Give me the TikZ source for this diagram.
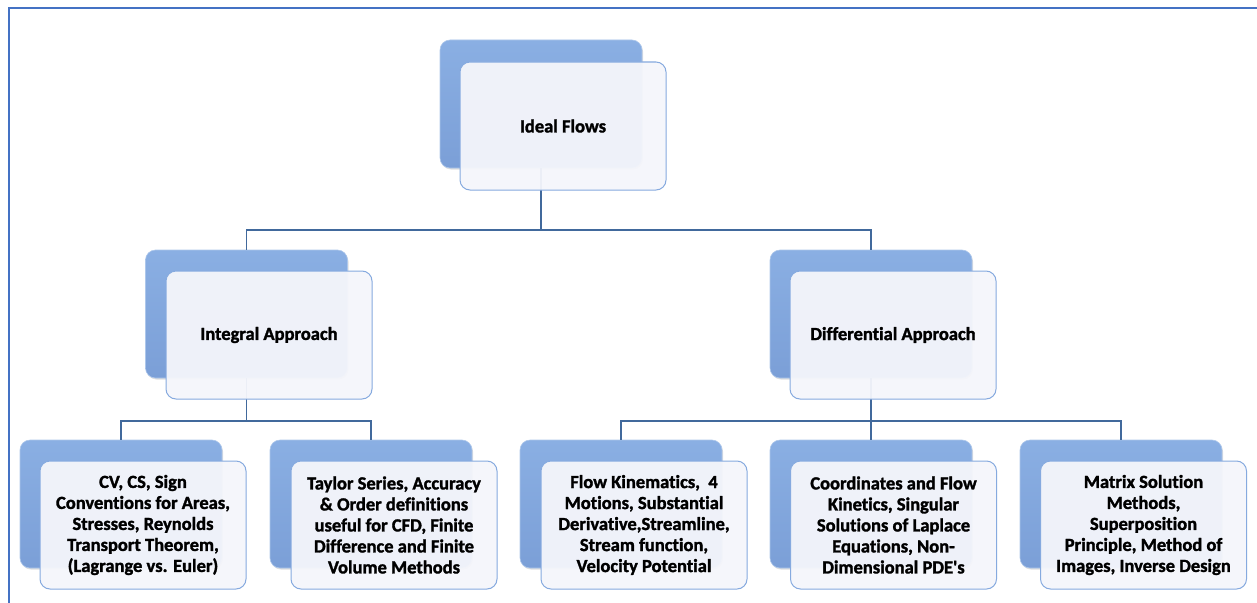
\documentclass[tikz,border=0pt]{standalone}
\usepackage{fontspec}
\setmainfont{Carlito}[Ligatures=CommonOff, BoldFeatures={FakeBold=1.6}]
\usetikzlibrary{shadows}
\definecolor{frameblue}{HTML}{4472C4}
\definecolor{linkblue}{HTML}{41699C}
\definecolor{backtop}{HTML}{8AAFE3}
\definecolor{backbot}{HTML}{7B9FD7}
\definecolor{frontfill}{HTML}{F5F6FB}
\definecolor{frontdraw}{HTML}{86AADF}
\tikzset{
  backbox/.style={rectangle, rounded corners=10pt, minimum width=202pt, minimum height=128pt,
    inner sep=0pt, top color=backtop, bottom color=backbot, draw=backtop!70!white, line width=0.6pt,
    drop shadow={shadow xshift=1pt, shadow yshift=-1.5pt, opacity=0.25}},
  frontbox/.style={rectangle, rounded corners=10pt, minimum width=206pt, minimum height=128pt,
    inner sep=0pt, fill=frontfill, fill opacity=0.95, text opacity=1, draw=frontdraw, line width=1pt,
    align=center, text=black, font=\fontsize{18.5}{21}\selectfont\bfseries},
  link/.style={draw=linkblue, line width=1.9pt},
}
\begin{document}
\begin{tikzpicture}[x=1pt,y=-1pt]
\useasboundingbox (0,0) rectangle (1257,602);
\fill[white] (0,0) rectangle (1257,602);
\draw[frameblue, line width=2.5pt] (9,610) -- (9,8) -- (1262,8);

% back boxes
\node[backbox] (b0) at (541,104) {};
\node[backbox] (b1) at (246.5,314) {};
\node[backbox] (b2) at (871,314) {};
\node[backbox] (l1) at (121,504) {};
\node[backbox] (l2) at (371,504) {};
\node[backbox] (l3) at (621,504) {};
\node[backbox] (l4) at (871,504) {};
\node[backbox] (l5) at (1121,504) {};

% connectors
\draw[link] (b0.south) -- (b0.south |- 0,230) -| (b1.north);
\draw[link] (b0.south |- 0,230) -| (b2.north);
\draw[link] (b1.south) -- (b1.south |- 0,421) -| (l1.north);
\draw[link] (b1.south |- 0,421) -| (l2.north);
\draw[link] (b2.south) -- (b2.south |- 0,421) -| (l3.north);
\draw[link] (b2.south |- 0,421) -- (l4.north);
\draw[link] (b2.south |- 0,421) -| (l5.north);

% front boxes
\node[frontbox] (f0) at (563,126) {Ideal Flows};
\node[frontbox] (f1) at (269,335) {Integral Approach};
\node[frontbox] (f2) at (893,335) {Differential Approach};
\node[frontbox] (g1) at (143,525) {CV, CS, Sign\\Conventions for Areas,\\Stresses, Reynolds\\Transport Theorem,\\(Lagrange vs. Euler)};
\node[frontbox] (g2) at (394,525) {Taylor Series, Accuracy\\\& Order definitions\\useful for CFD, Finite\\Difference and Finite\\Volume Methods};
\node[frontbox] (g3) at (644,525) {Flow Kinematics,\ \ 4\\Motions, Substantial\\Derivative,Streamline,\\Stream function,\\Velocity Potential};
\node[frontbox] (g4) at (893.5,525) {Coordinates and Flow\\Kinetics, Singular\\Solutions of Laplace\\Equations, Non-\\Dimensional PDE\textquotesingle s};
\node[frontbox] (g5) at (1143.5,525) {Matrix Solution\\Methods,\\Superposition\\Principle, Method of\\Images, Inverse Design};
\end{tikzpicture}
\end{document}
